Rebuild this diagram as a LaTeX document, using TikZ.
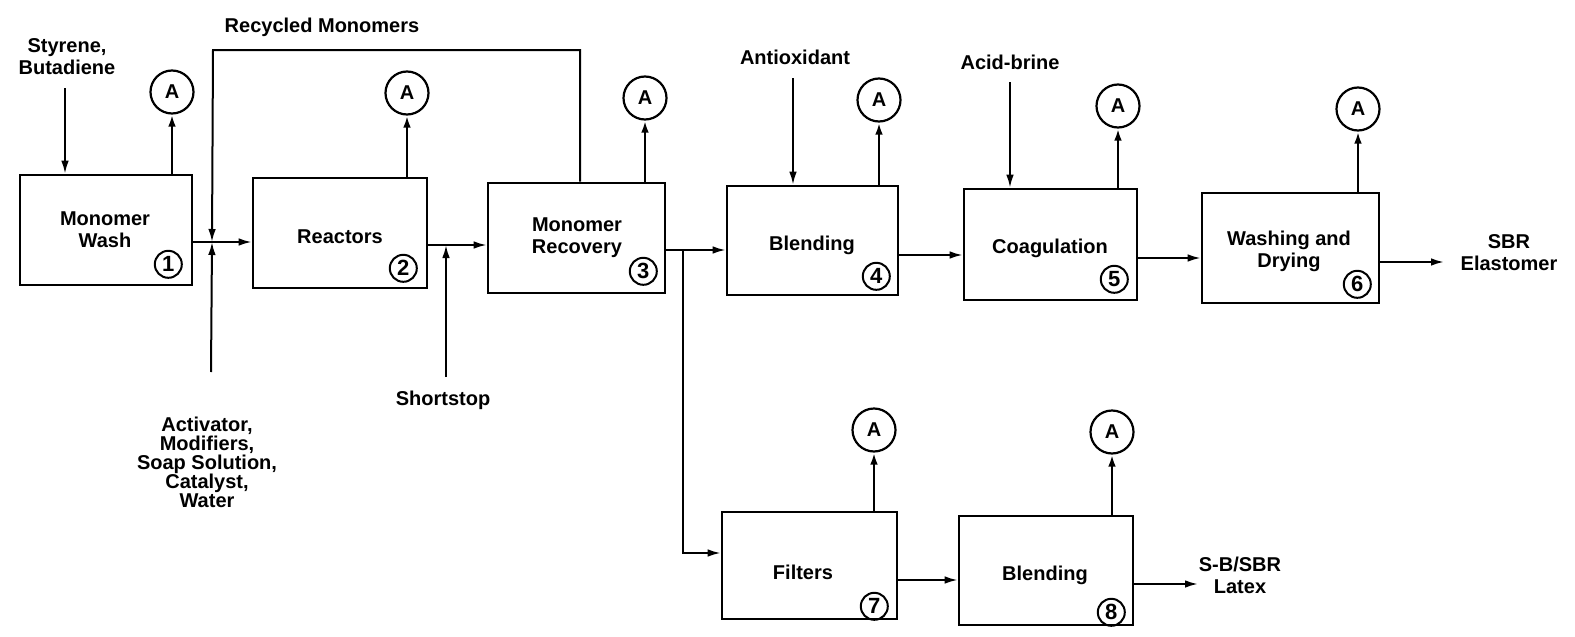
\documentclass[tikz,border=0pt]{standalone}
\usepackage{fontspec}
\setmainfont{Liberation Sans}
\usetikzlibrary{arrows.meta,calc}
\begin{document}
\begin{tikzpicture}[x=0.5pt,y=-0.5pt,
  lbl/.style={font=\fontsize{10}{11}\selectfont\bfseries,align=center,inner sep=0pt},
  box/.style={draw,line width=1.3pt,inner sep=0pt},
  num/.style={draw,circle,line width=1pt,minimum size=13.5pt,inner sep=0pt,font=\fontsize{11}{11}\selectfont\bfseries},
  anode/.style={draw,circle,line width=1.1pt,minimum size=21.5pt,inner sep=0pt,font=\fontsize{10}{10}\selectfont\bfseries},
  flow/.style={line width=1pt,-{Latex[length=6.5pt,width=3.8pt]}},
  vent/.style={line width=1.3pt,-{Latex[length=6pt,width=3.8pt]}}
]
\useasboundingbox (0,0) rectangle (1575,637);

% process boxes
\node[box,minimum width=86pt,minimum height=55pt] (b1) at (106,230) {};
\node[box,minimum width=87pt,minimum height=55pt] (b2) at (340,233) {};
\node[box,minimum width=88.5pt,minimum height=55pt] (b3) at (576.5,238) {};
\node[box,minimum width=85.5pt,minimum height=54.5pt] (b4) at (812.5,240.5) {};
\node[box,minimum width=86.5pt,minimum height=55.5pt] (b5) at (1050.5,244.5) {};
\node[box,minimum width=88.5pt,minimum height=55pt] (b6) at (1290.5,248) {};
\node[box,minimum width=87.5pt,minimum height=53.5pt] (b7) at (809.5,565.5) {};
\node[box,minimum width=87pt,minimum height=54.5pt] (b8) at (1046,570.5) {};

% box texts
\node[lbl] (t1) at (105,230) {Monomer\\Wash};
\node[lbl] (t2) at (340,237) {Reactors};
\node[lbl] (t3) at (577,238) {Monomer\\Recovery};
\node[lbl] (t4) at (812,245) {Blending};
\node[lbl] (t5) at (1050,248) {Coagulation};
\node[lbl] (t6) at (1289,251) {Washing and\\Drying};
\node[lbl] (t7) at (803,572) {Filters};
\node[lbl] (t8) at (1045,575) {Blending};

% circled numbers
\node[num] (n1) at ($(b1.south east)+(-25,-22)$) {1};
\node[num] (n2) at ($(b2.south east)+(-25,-21)$) {2};
\node[num] (n3) at ($(b3.south east)+(-23,-23)$) {3};
\node[num] (n4) at ($(b4.south east)+(-23,-20)$) {4};
\node[num] (n5) at ($(b5.south east)+(-24,-22)$) {5};
\node[num] (n6) at ($(b6.south east)+(-23,-20)$) {6};
\node[num] (n7) at ($(b7.south east)+(-24,-14)$) {7};
\node[num] (n8) at ($(b8.south east)+(-23,-14)$) {8};

% emission circles
\node[anode] (a1) at (172,92) {A};
\node[anode] (a2) at (407,93) {A};
\node[anode] (a3) at (645,98) {A};
\node[anode] (a4) at (879,100) {A};
\node[anode] (a5) at (1118,106) {A};
\node[anode] (a6) at (1358,109) {A};
\node[anode] (a7) at (874,430) {A};
\node[anode] (a8) at (1112,432) {A};
\foreach \i in {1,...,8} {\draw[vent] (b\i.north -| a\i) -- (a\i);}

% labels
\node[lbl] (lsty) at (67,57) {Styrene,\\Butadiene};
\node[lbl] (lrec) at (322,27) {Recycled Monomers};
\node[lbl,font=\fontsize{10}{9.5}\selectfont\bfseries] (lact) at (207,462) {Activator,\\Modifiers,\\Soap Solution,\\Catalyst,\\Water};
\node[lbl] (lss) at (443,400) {Shortstop};
\node[lbl] (lanti) at (795,57) {Antioxidant};
\node[lbl] (lacid) at (1010,62) {Acid-brine};
\node[lbl] (lsbr) at (1509,253) {SBR\\Elastomer};
\node[lbl] (llat) at (1240,575) {S-B/SBR\\Latex};

% free ends and junctions
\coordinate (s1) at (65,88);
\coordinate (s4) at (793,78);
\coordinate (s5) at (1010,82);
\coordinate (j1) at (212,242);
\coordinate (r1) at (580,50);
\coordinate (r2) at (213,50);
\coordinate (act) at (211,372);
\coordinate (j2) at (446,245);
\coordinate (ss) at (446,377);
\coordinate (j3) at (683,250);
\coordinate (j4) at (683,553);
\coordinate (o1) at (1444,262);
\coordinate (o2) at (1198,584);

% inputs
\draw[flow] (s1) -- (b1.north -| s1);
\draw[flow] (s4) -- (b4.north -| s4);
\draw[flow] (s5) -- (b5.north -| s5);

% main line
\draw[flow] (b1.east |- j1) -- (b2.west |- j1);
\draw[flow] (b3.north -| r1) -- (r1) -- (r2) -- (j1);
\draw[flow] (act) -- (j1);
\draw[flow] (b2.east |- j2) -- (b3.west |- j2);
\draw[flow] (ss) -- (j2);
\draw[flow] (b3.east |- j3) -- (b4.west |- j3);
\draw[flow] (j3) -- (j4) -- (b7.west |- j4);
\draw[flow] (b4.east |- 0,255) -- (b5.west |- 0,255);
\draw[flow] (b5.east |- 0,258) -- (b6.west |- 0,258);
\draw[flow] (b6.east |- o1) -- (o1);
\draw[flow] (b7.east |- 0,580) -- (b8.west |- 0,580);
\draw[flow] (b8.east |- o2) -- (o2);
\end{tikzpicture}
\end{document}
